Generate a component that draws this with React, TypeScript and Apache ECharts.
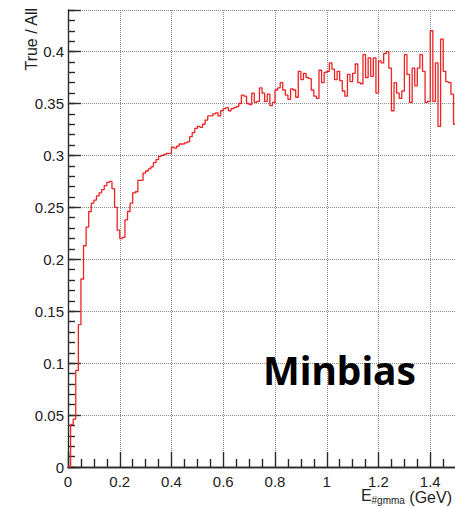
import React, { useEffect, useRef } from "react";
import * as echarts from "echarts";

// Fraction of true photons per 10 MeV energy bin (Minbias sample)
const binWidth = 0.01;
const ratioLowE = [
  0, 0.041, 0.046, 0.093, 0.137, 0.181, 0.213, 0.231, 0.246, 0.254,
  0.257, 0.261, 0.264, 0.267, 0.271, 0.274, 0.275, 0.268, 0.25, 0.228,
  0.22, 0.221, 0.238, 0.246, 0.254, 0.264, 0.265, 0.276, 0.276, 0.283,
  0.285, 0.287, 0.289, 0.293, 0.296, 0.299, 0.3, 0.301, 0.302, 0.302,
  0.308, 0.307, 0.309, 0.311, 0.311, 0.312, 0.313, 0.318, 0.322, 0.326,
];
const ratioMidE = [
  0.328, 0.327, 0.33, 0.334, 0.338, 0.338, 0.34, 0.341, 0.338, 0.343,
  0.345, 0.346, 0.343, 0.345, 0.346, 0.347, 0.35, 0.358, 0.357, 0.35,
  0.349, 0.36, 0.351, 0.352, 0.365, 0.36, 0.352, 0.359, 0.348, 0.351,
  0.363, 0.365, 0.37, 0.363, 0.358, 0.354, 0.364, 0.363, 0.356, 0.381,
  0.373, 0.379, 0.375, 0.374, 0.363, 0.357, 0.355, 0.382, 0.37, 0.38,
];
const ratioHighE = [
  0.381, 0.389, 0.383, 0.373, 0.381, 0.372, 0.362, 0.357, 0.378, 0.371,
  0.379, 0.388, 0.37, 0.369, 0.397, 0.375, 0.394, 0.376, 0.394, 0.36,
  0.391, 0.389, 0.398, 0.4, 0.384, 0.343, 0.37, 0.36, 0.355, 0.362,
  0.397, 0.378, 0.351, 0.384, 0.367, 0.384, 0.397, 0.381, 0.351, 0.352,
  0.42, 0.352, 0.389, 0.328, 0.412, 0.381, 0.371, 0.37, 0.359, 0.33,
];

const ratio = [...ratioLowE, ...ratioMidE, ...ratioHighE];

const AXIS_FONT = "'Liberation Sans', Arial, Helvetica, sans-serif";
const AXIS_COLOR = "#2a2a2a";
const LABEL_COLOR = "#222";

const dottedGrid = () => ({
  show: true,
  lineStyle: { color: "#8a8a8a", type: "dotted" as const, width: 1 },
});
const tickLine = () => ({ color: AXIS_COLOR, width: 1.4 });

export default function App() {
  const ref = useRef<HTMLDivElement>(null);

  useEffect(() => {
    if (!ref.current) return;
    const chart = echarts.init(ref.current, null, { renderer: "svg" });

    // histogram drawn as a step line through the lower bin edges
    const points: [number, number][] = ratio.map((v, i) => [
      +(i * binWidth).toFixed(2),
      v,
    ]);
    points.push([+(ratio.length * binWidth).toFixed(2), ratio[ratio.length - 1]]);

    chart.setOption({
      animation: false,
      backgroundColor: "#fff",
      grid: { left: 68, right: 0, top: 10, bottom: 40, outerBoundsMode: "none" },
      xAxis: [
        {
          type: "value",
          min: 0,
          max: 1.6,
          interval: 0.2,
          axisLine: { show: true, lineStyle: { color: AXIS_COLOR, width: 1.4 } },
          axisTick: { show: true, inside: true, length: 15, lineStyle: tickLine() },
          minorTick: { show: true, splitNumber: 4, length: 8, lineStyle: tickLine() },
          axisLabel: {
            color: LABEL_COLOR,
            fontFamily: AXIS_FONT,
            fontSize: 15,
            margin: 7,
            formatter: (v: number) => (v > 1.5 ? "" : String(+v.toFixed(1))),
          },
          splitLine: dottedGrid(),
        },
        {
          type: "value",
          position: "top",
          min: 0,
          max: 1.6,
          axisLine: { show: true, lineStyle: { color: AXIS_COLOR, width: 1.4 } },
          axisTick: { show: false },
          axisLabel: { show: false },
          splitLine: { show: false },
        },
      ],
      yAxis: [
        {
          type: "value",
          min: 0,
          max: 0.44,
          interval: 0.05,
          axisLine: { show: true, lineStyle: { color: AXIS_COLOR, width: 1.4 } },
          axisTick: { show: true, inside: true, length: 13, lineStyle: tickLine() },
          axisLabel: {
            color: LABEL_COLOR,
            fontFamily: AXIS_FONT,
            fontSize: 15,
            margin: 4,
            formatter: (v: number) => (v > 0.42 ? "" : String(+v.toFixed(2))),
          },
          splitLine: dottedGrid(),
        },
        {
          // finer 0.01 tick marks on the same scale
          type: "value",
          position: "left",
          min: 0,
          max: 0.44,
          interval: 0.01,
          axisLine: { show: false },
          axisTick: { show: true, inside: true, length: 7, lineStyle: tickLine() },
          axisLabel: { show: false },
          splitLine: { show: false },
        },
      ],
      series: [
        {
          type: "line",
          xAxisIndex: 0,
          yAxisIndex: 0,
          step: "end",
          data: points,
          symbol: "none",
          lineStyle: { color: "#ee2424", width: 1.3 },
          z: 3,
        },
      ],
      graphic: [
        {
          type: "text",
          x: 31,
          y: 8,
          rotation: Math.PI / 2,
          style: {
            text: "True / All",
            fill: LABEL_COLOR,
            font: `16px ${AXIS_FONT}`,
            align: "right",
            verticalAlign: "middle",
          },
        },
        {
          type: "text",
          x: 452,
          y: 505,
          style: {
            text: "{e|E}{s|#gmma}{g| (GeV)}",
            align: "right",
            verticalAlign: "bottom",
            rich: {
              e: { fontFamily: AXIS_FONT, fontSize: 16, fill: LABEL_COLOR, verticalAlign: "top", lineHeight: 18 },
              s: { fontFamily: AXIS_FONT, fontSize: 10, fill: LABEL_COLOR, verticalAlign: "bottom", lineHeight: 12 },
              g: { fontFamily: AXIS_FONT, fontSize: 16, fill: LABEL_COLOR, verticalAlign: "bottom", lineHeight: 18 },
            },
          },
        },
        {
          type: "text",
          x: 263,
          y: 369,
          style: {
            text: "Minbias",
            fill: "#000",
            font: "bold 39px 'Noto Sans', 'Open Sans', sans-serif",
            align: "left",
            verticalAlign: "middle",
          },
          z: 10,
        },
      ],
    });

    return () => chart.dispose();
  }, []);

  return (
    <div
      style={{
        position: "fixed",
        left: 0,
        top: 0,
        width: 455,
        height: 507,
        overflow: "hidden",
        background: "#fff",
      }}
    >
      <div ref={ref} style={{ width: 482, height: 507 }} />
    </div>
  );
}
